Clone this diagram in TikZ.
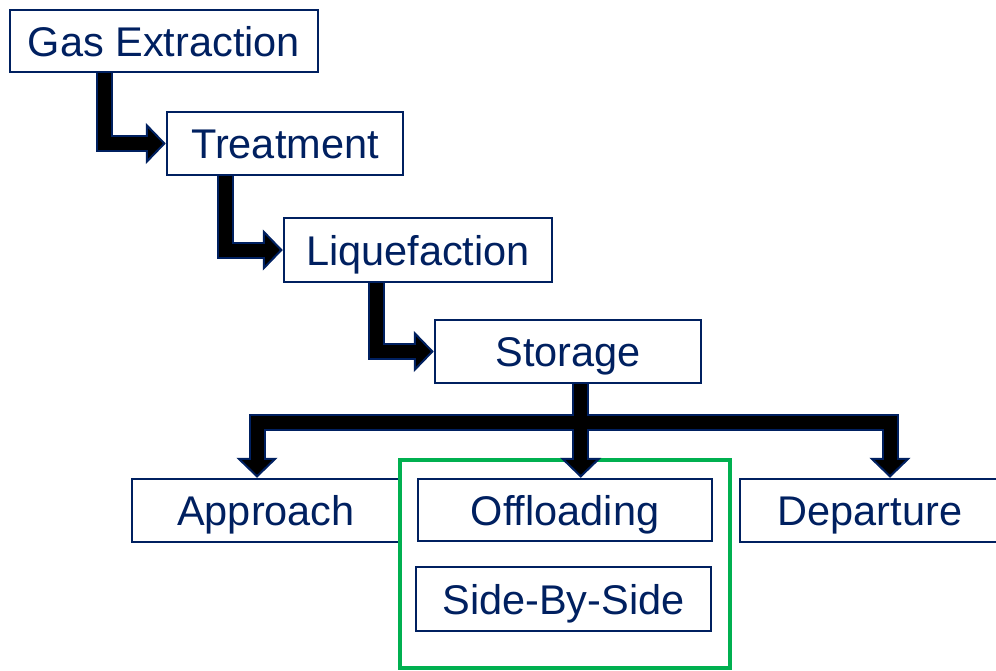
\documentclass[tikz,border=0pt]{standalone}
\usepackage{fontspec}
\setmainfont{Liberation Sans}
\usetikzlibrary{arrows.meta,calc}
\definecolor{navy}{HTML}{002060}
\definecolor{grn}{HTML}{00B050}
\tikzset{
  box/.style={draw=navy, line width=2.5pt, fill=white, text=navy, inner sep=0pt,
    text height=30pt, text depth=0pt, font=\fontsize{41.5}{48}\selectfont},
  flowout/.style={draw=navy, line width=17pt, line join=miter,
    -{Triangle[width=41pt,length=20pt,fill=black,line width=2pt]}},
  flowin/.style={draw=black, line width=13pt, line join=miter, shorten >=17pt},
}
\begin{document}
\begin{tikzpicture}[x=1pt,y=-1pt]
\useasboundingbox (0,0) rectangle (996,670);
\begin{scope}
\clip (0,0) rectangle (996,670);
\node[box, minimum width=308pt, minimum height=62pt] (gas) at (164,41) {Gas Extraction};
\node[box, minimum width=236pt, minimum height=63pt] (treat) at (285,143.5) {Treatment};
\node[box, minimum width=268pt, minimum height=64pt] (liq) at (418,250) {Liquefaction};
\node[box, minimum width=266pt, minimum height=63pt] (stor) at (568,351.5) {Storage};
\node[box, minimum width=268pt, minimum height=63pt] (appr) at (266,510.5) {Approach};
\node[box, minimum width=294pt, minimum height=62pt] (off) at (565,510) {Offloading};
\node[box, minimum width=260pt, minimum height=63pt] (dep) at (870,510.5) {Departure};
\node[box, minimum width=295pt, minimum height=64pt] (side) at (563.5,599) {Side-By-Side};
\node[draw=grn, line width=4pt, minimum width=330pt, minimum height=208pt, inner sep=0pt] (grp) at (565,564) {};

\coordinate (g1) at ($(gas.south west)+(96,0)$);
\coordinate (t1) at ($(treat.south west)+(60,0)$);
\coordinate (l1) at ($(liq.south west)+(94,0)$);
\coordinate (s1) at ($(stor.south west)+(147,0)$);
\coordinate (bar) at ($(s1)+(0,38)$);
\coordinate (a1) at ($(appr.north)+(-9,0)$);
\coordinate (d1) at ($(dep.north)+(20,0)$);

\foreach \st in {flowout,flowin}{
  \draw[\st] (g1) |- (treat.west);
  \draw[\st] (t1) |- (liq.west);
  \draw[\st] (l1) |- (stor.west);
  \draw[\st] (s1) -- (s1 |- off.north);
  \draw[\st] (s1) -- (bar) -| (a1);
  \draw[\st] (s1) -- (bar) -| (d1);
}
\end{scope}
\end{tikzpicture}
\end{document}
